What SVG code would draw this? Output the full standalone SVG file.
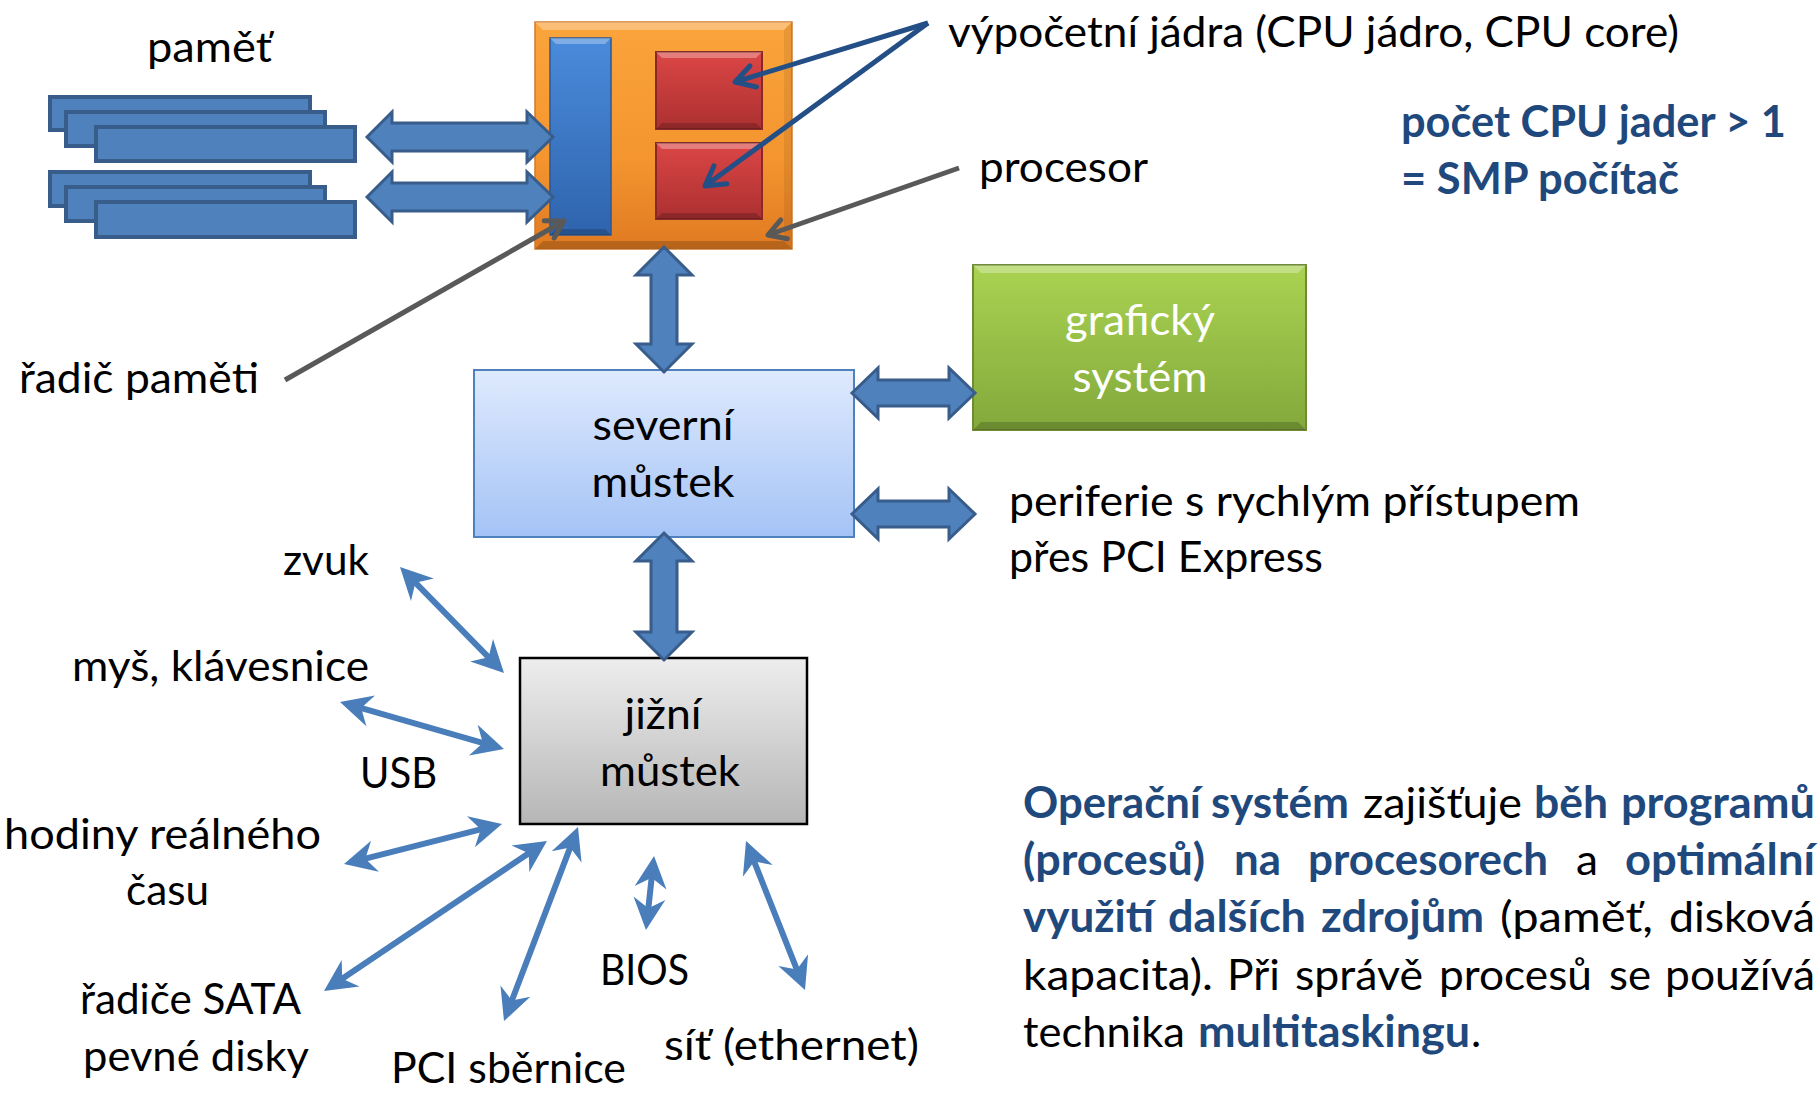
<svg xmlns="http://www.w3.org/2000/svg" width="1819" height="1093" viewBox="0 0 1819 1093">
<style>
text{font-family:Lato,"Open Sans","Liberation Sans",sans-serif;font-size:43px;fill:#000}
.b{font-weight:bold;fill:#1f497d}
.w{fill:#fff}
.mem{fill:#4f81bd;stroke:#385d8a;stroke-width:4}
.blk{fill:#4f81bd;stroke:#385d8a;stroke-width:3;stroke-linejoin:miter}
.thin{stroke:#4a7ebb;stroke-width:6;fill:none;marker-start:url(#head);marker-end:url(#head)}
.gray{stroke:#595959;stroke-width:5;fill:none;marker-end:url(#openGray)}
.navy{stroke:#234e86;stroke-width:5;fill:none;marker-end:url(#openNavy)}
.hl{fill:#fff;opacity:.3}
.sh{fill:#000;opacity:.18}
.sd{fill:#000;opacity:.07}
</style>
<defs>
<linearGradient id="gOrange" x1="0" y1="0" x2="0" y2="1"><stop offset="0" stop-color="#fba43c"/><stop offset="0.6" stop-color="#f4952f"/><stop offset="1" stop-color="#e07a22"/></linearGradient>
<linearGradient id="gBlue" x1="0" y1="0" x2="0" y2="1"><stop offset="0" stop-color="#4a8bdb"/><stop offset="1" stop-color="#2f64ad"/></linearGradient>
<linearGradient id="gRed" x1="0" y1="0" x2="0" y2="1"><stop offset="0" stop-color="#dc4646"/><stop offset="1" stop-color="#ac3030"/></linearGradient>
<linearGradient id="gGreen" x1="0" y1="0" x2="0" y2="1"><stop offset="0" stop-color="#aad352"/><stop offset="1" stop-color="#82a93b"/></linearGradient>
<linearGradient id="gNB" x1="0" y1="0" x2="0" y2="1"><stop offset="0" stop-color="#dfeafd"/><stop offset="1" stop-color="#a4c3f6"/></linearGradient>
<linearGradient id="gSB" x1="0" y1="0" x2="0" y2="1"><stop offset="0" stop-color="#ededed"/><stop offset="1" stop-color="#b6b6b6"/></linearGradient>
<marker id="head" viewBox="0 -17 34 34" markerUnits="userSpaceOnUse" markerWidth="34" markerHeight="34" refX="16" refY="0" orient="auto-start-reverse"><path d="M32,0 L0,-16 L10,0 L0,16 Z" fill="#4a7ebb"/></marker>
<marker id="openGray" viewBox="-22 -14 26 28" markerUnits="userSpaceOnUse" markerWidth="26" markerHeight="28" refX="0" refY="0" orient="auto"><path d="M-17,-10 L0,0 L-17,10" fill="none" stroke="#595959" stroke-width="5" stroke-linecap="round" stroke-linejoin="round"/></marker>
<marker id="openNavy" viewBox="-24 -15 28 30" markerUnits="userSpaceOnUse" markerWidth="28" markerHeight="30" refX="0" refY="0" orient="auto"><path d="M-19,-11 L0,0 L-19,11" fill="none" stroke="#234e86" stroke-width="5" stroke-linecap="round" stroke-linejoin="round"/></marker>
</defs>
<rect width="1819" height="1093" fill="#fff"/>

<g id="memory">
<rect class="mem" x="50" y="97" width="260" height="33"/>
<rect class="mem" x="66" y="112" width="259" height="34"/>
<rect class="mem" x="96" y="127" width="259" height="34"/>
<rect class="mem" x="50" y="172" width="260" height="34"/>
<rect class="mem" x="66" y="187" width="259" height="34"/>
<rect class="mem" x="96" y="202" width="259" height="35"/>
<text x="147" y="62" textLength="125" lengthAdjust="spacingAndGlyphs">paměť</text>
</g>

<g id="cpu">
<rect x="535" y="22" width="257" height="227" fill="url(#gOrange)" stroke="#d27a2a" stroke-width="1.5"/>
<path class="hl" d="M535,22 L792,22 L784,30 L543,30 Z"/>
<path class="sh" d="M535,249 L792,249 L784,241 L543,241 Z"/>
<path class="sd" d="M792,22 L792,249 L784,241 L784,30 Z"/>
<rect x="550" y="38" width="61" height="197" fill="url(#gBlue)" stroke="#2b5895" stroke-width="1.5"/>
<path class="hl" d="M550,38 L611,38 L605,44 L556,44 Z"/>
<path class="sh" d="M550,235 L611,235 L605,229 L556,229 Z"/>
<rect x="656" y="52" width="106" height="77" fill="url(#gRed)" stroke="#8a2828" stroke-width="2"/>
<path class="hl" d="M656,52 L762,52 L756,58 L662,58 Z"/>
<path class="sh" d="M656,129 L762,129 L756,123 L662,123 Z"/>
<rect x="656" y="143" width="106" height="76" fill="url(#gRed)" stroke="#8a2828" stroke-width="2"/>
<path class="hl" d="M656,143 L762,143 L756,149 L662,149 Z"/>
<path class="sh" d="M656,219 L762,219 L756,213 L662,213 Z"/>
</g>

<g id="north-bridge">
<rect x="474" y="370" width="380" height="167" fill="url(#gNB)" stroke="#4f81bd" stroke-width="2"/>
<text x="663" y="440" text-anchor="middle" textLength="141" lengthAdjust="spacingAndGlyphs">severní</text>
<text x="663" y="497" text-anchor="middle" textLength="143" lengthAdjust="spacingAndGlyphs">můstek</text>
</g>

<g id="graphics">
<rect x="973" y="265" width="333" height="165" fill="url(#gGreen)" stroke="#6f8c35" stroke-width="2"/>
<path class="hl" d="M973,265 L1306,265 L1298,273 L981,273 Z"/>
<path class="sh" d="M973,430 L1306,430 L1298,422 L981,422 Z"/>
<text class="w" x="1140" y="335" text-anchor="middle" textLength="150" lengthAdjust="spacingAndGlyphs">grafický</text>
<text class="w" x="1140" y="392" text-anchor="middle" textLength="135" lengthAdjust="spacingAndGlyphs">systém</text>
</g>

<g id="south-bridge">
<rect x="520" y="658" width="287" height="166" fill="url(#gSB)" stroke="#000" stroke-width="2.5"/>
<text x="663" y="729" text-anchor="middle" textLength="77" lengthAdjust="spacingAndGlyphs">jižní</text>
<text x="600" y="786" textLength="140" lengthAdjust="spacingAndGlyphs">můstek</text>
</g>

<g id="label-cores"><text x="948" y="47" textLength="731" lengthAdjust="spacingAndGlyphs">výpočetní jádra (CPU jádro, CPU core)</text></g>
<g id="label-procesor"><text x="979" y="182" textLength="169" lengthAdjust="spacingAndGlyphs">procesor</text></g>
<g id="label-radic"><text x="19" y="393" textLength="240" lengthAdjust="spacingAndGlyphs">řadič paměti</text></g>
<g id="label-smp">
<text class="b" x="1401" y="137" textLength="385" lengthAdjust="spacingAndGlyphs">počet CPU jader &gt; 1</text>
<text class="b" x="1401" y="194" textLength="278" lengthAdjust="spacingAndGlyphs">= SMP počítač</text>
</g>
<g id="label-pcie">
<text x="1009" y="516" textLength="571" lengthAdjust="spacingAndGlyphs">periferie s rychlým přístupem</text>
<text x="1009" y="572" textLength="314" lengthAdjust="spacingAndGlyphs">přes PCI Express</text>
</g>
<g id="label-zvuk"><text x="283" y="575" textLength="86" lengthAdjust="spacingAndGlyphs">zvuk</text></g>
<g id="label-mys"><text x="72" y="681" textLength="297" lengthAdjust="spacingAndGlyphs">myš, klávesnice</text></g>
<g id="label-usb"><text x="360" y="788" textLength="77" lengthAdjust="spacingAndGlyphs">USB</text></g>
<g id="label-hodiny">
<text x="4" y="849" textLength="317" lengthAdjust="spacingAndGlyphs">hodiny reálného</text>
<text x="126" y="905" textLength="83" lengthAdjust="spacingAndGlyphs">času</text>
</g>
<g id="label-sata">
<text x="80" y="1014" textLength="221" lengthAdjust="spacingAndGlyphs">řadiče SATA</text>
<text x="83" y="1071" textLength="226" lengthAdjust="spacingAndGlyphs">pevné disky</text>
</g>
<g id="label-pci"><text x="391" y="1083" textLength="235" lengthAdjust="spacingAndGlyphs">PCI sběrnice</text></g>
<g id="label-bios"><text x="600" y="985" textLength="89" lengthAdjust="spacingAndGlyphs">BIOS</text></g>
<g id="label-sit"><text x="664" y="1060" textLength="255" lengthAdjust="spacingAndGlyphs">síť (ethernet)</text></g>

<g id="os-note">
<text class="b" x="1023" y="818" textLength="178" lengthAdjust="spacingAndGlyphs">Operační</text>
<text class="b" x="1211" y="818" textLength="138" lengthAdjust="spacingAndGlyphs">systém</text>
<text x="1363" y="818" textLength="159" lengthAdjust="spacingAndGlyphs">zajišťuje</text>
<text class="b" x="1534" y="818" textLength="74" lengthAdjust="spacingAndGlyphs">běh</text>
<text class="b" x="1621" y="818" textLength="194" lengthAdjust="spacingAndGlyphs">programů</text>
<text class="b" x="1023" y="875" textLength="182" lengthAdjust="spacingAndGlyphs">(procesů)</text>
<text class="b" x="1234" y="875" textLength="47" lengthAdjust="spacingAndGlyphs">na</text>
<text class="b" x="1308" y="875" textLength="240" lengthAdjust="spacingAndGlyphs">procesorech</text>
<text x="1576" y="875" textLength="22" lengthAdjust="spacingAndGlyphs">a</text>
<text class="b" x="1625" y="875" textLength="190" lengthAdjust="spacingAndGlyphs">optimální</text>
<text class="b" x="1023" y="932" textLength="131" lengthAdjust="spacingAndGlyphs">využití</text>
<text class="b" x="1168" y="932" textLength="138" lengthAdjust="spacingAndGlyphs">dalších</text>
<text class="b" x="1321" y="932" textLength="163" lengthAdjust="spacingAndGlyphs">zdrojům</text>
<text x="1500" y="932" textLength="153" lengthAdjust="spacingAndGlyphs">(paměť,</text>
<text x="1669" y="932" textLength="146" lengthAdjust="spacingAndGlyphs">disková</text>
<text x="1023" y="990" textLength="190" lengthAdjust="spacingAndGlyphs">kapacita).</text>
<text x="1227" y="990" textLength="53" lengthAdjust="spacingAndGlyphs">Při</text>
<text x="1295" y="990" textLength="128" lengthAdjust="spacingAndGlyphs">správě</text>
<text x="1439" y="990" textLength="153" lengthAdjust="spacingAndGlyphs">procesů</text>
<text x="1609" y="990" textLength="42" lengthAdjust="spacingAndGlyphs">se</text>
<text x="1665" y="990" textLength="150" lengthAdjust="spacingAndGlyphs">používá</text>
<text x="1023" y="1047" textLength="162" lengthAdjust="spacingAndGlyphs">technika</text>
<text class="b" x="1198" y="1047" textLength="272" lengthAdjust="spacingAndGlyphs">multitaskingu</text>
<text x="1471" y="1047">.</text>
</g>

<g id="connectors">
<path class="blk" d="M367,137 L392,112 L392,123 L527,123 L527,112 L553,137 L527,162 L527,151 L392,151 L392,162 Z"/>
<path class="blk" d="M367,197 L392,172 L392,183 L527,183 L527,172 L553,197 L527,222 L527,211 L392,211 L392,222 Z"/>
<path class="blk" d="M664,247 L692,275 L677,275 L677,344 L692,344 L664,372 L636,344 L651,344 L651,275 L636,275 Z"/>
<path class="blk" d="M664,533 L692,561 L677,561 L677,632 L692,632 L664,660 L636,632 L651,632 L651,561 L636,561 Z"/>
<path class="blk" d="M852,393 L878,368 L878,380 L949,380 L949,368 L975,393 L949,418 L949,406 L878,406 L878,418 Z"/>
<path class="blk" d="M852,514 L878,489 L878,501 L949,501 L949,489 L975,514 L949,539 L949,527 L878,527 L878,539 Z"/>
<line class="thin" x1="411.2" y1="578.4" x2="492.8" y2="661.6"/>
<line class="thin" x1="355.4" y1="706.4" x2="488.6" y2="744.6"/>
<line class="thin" x1="359.5" y1="860.1" x2="486.5" y2="827.9"/>
<line class="thin" x1="337.3" y1="982.1" x2="533.7" y2="849.9"/>
<line class="thin" x1="509.7" y1="1006.1" x2="572.3" y2="841.9"/>
<line class="thin" x1="652.3" y1="871.9" x2="647.7" y2="914.1"/>
<line class="thin" x1="751.9" y1="855.9" x2="799.1" y2="975.1"/>
<line class="gray" x1="285" y1="380" x2="564" y2="221"/>
<line class="gray" x1="959" y1="168" x2="768" y2="235"/>
<line class="navy" x1="928" y1="23" x2="735" y2="82"/>
<line class="navy" x1="928" y1="23" x2="705" y2="186"/>
</g>
</svg>
